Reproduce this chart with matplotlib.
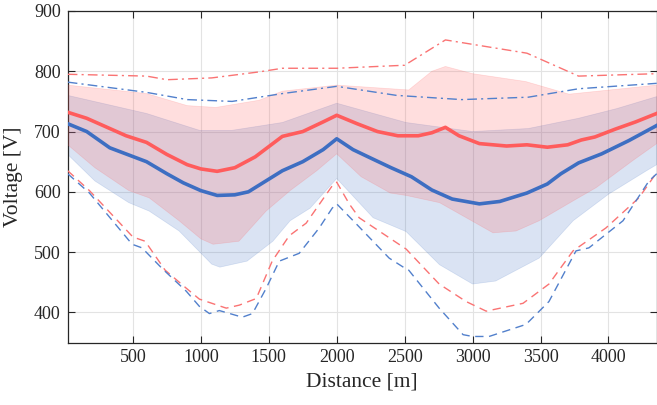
import numpy as np
import matplotlib
matplotlib.use("Agg")
import matplotlib.pyplot as plt

# ---------------- data ----------------
red_mean_x = [20, 160, 300, 450, 600, 750, 900, 1000, 1120, 1250, 1400, 1500, 1600, 1750, 1900, 2000,
              2150, 2300, 2450, 2600, 2700, 2800, 2900, 3050, 3250, 3400, 3550, 3700, 3800, 3900,
              4050, 4200, 4355]
red_mean_y = [732, 722, 708, 693, 682, 662, 645, 638, 634, 640, 658, 675, 692, 700, 716, 727,
              713, 700, 693, 693, 698, 707, 693, 680, 676, 678, 674, 678, 686, 691,
              704, 716, 730]

blue_mean_x = [20, 160, 330, 600, 750, 870, 1000, 1120, 1250, 1350, 1450, 1600, 1750, 1900, 2000,
               2120, 2250, 2400, 2550, 2700, 2850, 3050, 3200, 3400, 3550, 3650, 3780, 3950, 4150, 4355]
blue_mean_y = [713, 700, 673, 650, 630, 615, 602, 594, 595, 600, 614, 635, 650, 670, 688,
               670, 656, 640, 625, 603, 588, 580, 584, 598, 613, 630, 648, 663, 685, 710]

red_max_x = [20, 600, 750, 1080, 1430, 1600, 2000, 2500, 2800, 3400, 3780, 4355]
red_max_y = [795, 792, 786, 789, 799, 805, 805, 810, 852, 830, 792, 796]

blue_max_x = [20, 600, 900, 1230, 1600, 2000, 2440, 2920, 3410, 3780, 4355]
blue_max_y = [782, 765, 753, 750, 763, 775, 760, 753, 757, 771, 780]

red_min_x = [20, 180, 500, 590, 737, 893, 989, 1187, 1283, 1408, 1525, 1650, 1775, 1967, 2000,
             2092, 2165, 2511, 2754, 2952, 3100, 3371, 3562, 3739, 3981, 4224, 4355]
red_min_y = [635, 602, 525, 518, 470, 440, 422, 407, 412, 423, 485, 527, 548, 610, 616,
             580, 557, 505, 447, 418, 402, 415, 447, 502, 540, 590, 632]

blue_min_x = [20, 180, 494, 567, 714, 893, 989, 1063, 1136, 1305, 1380, 1481, 1577, 1724, 1871,
              1967, 2000, 2143, 2386, 2511, 2530, 2754, 2930, 3000, 3121, 3393, 3562, 3761, 3856,
              4107, 4298, 4355]
blue_min_y = [630, 598, 513, 507, 473, 435, 410, 398, 403, 392, 398, 440, 485, 498, 540,
              573, 580, 547, 490, 472, 470, 407, 363, 360, 360, 380, 418, 502, 507,
              552, 618, 630]

red_up_x = [20, 600, 900, 1110, 1430, 1600, 2000, 2530, 2700, 2800, 3000, 3390, 3710, 4355]
red_up_y = [777, 763, 743, 740, 752, 767, 777, 769, 800, 808, 796, 783, 762, 777]

red_lo_x = [20, 220, 470, 620, 840, 1000, 1090, 1280, 1480, 1657, 1853, 2000, 2180, 2394, 2511,
            2757, 3150, 3320, 3490, 3740, 3910, 4180, 4355]
red_lo_y = [678, 640, 602, 590, 552, 522, 513, 518, 568, 602, 635, 663, 625, 598, 594,
            582, 532, 535, 552, 585, 607, 652, 680]

blue_up_x = [20, 600, 990, 1230, 1600, 2000, 2510, 3000, 3410, 3780, 4060, 4355]
blue_up_y = [760, 730, 702, 702, 715, 747, 715, 700, 705, 722, 738, 758]

blue_lo_x = [20, 220, 470, 620, 840, 1080, 1140, 1340, 1530, 1657, 1805, 1900, 2000, 2268, 2511,
             2757, 3000, 3170, 3490, 3740, 4000, 4280, 4355]
blue_lo_y = [662, 618, 582, 568, 535, 480, 475, 485, 518, 552, 573, 597, 622, 557, 534,
             479, 447, 452, 490, 552, 596, 635, 645]

x_ticks = [500, 1000, 1500, 2000, 2500, 3000, 3500, 4000]
y_ticks = [400, 500, 600, 700, 800, 900]

# ---------------- styling ----------------
plt.rcParams['font.family'] = ['Liberation Serif', 'DejaVu Serif']

RED = (1.0, 0.36, 0.36)
BLUE = (0.24, 0.43, 0.76)
RED_L = (0.98, 0.45, 0.45)
BLUE_L = (0.32, 0.50, 0.80)
AX = '#262626'

fig = plt.figure(figsize=(6.57, 4.05), dpi=100)
ax = fig.add_axes([67.7 / 657, (405 - 342.5) / 405, (656.7 - 67.7) / 657, (342.5 - 11) / 405])

# bands
bx = np.concatenate([blue_up_x, blue_lo_x[::-1]])
by = np.concatenate([blue_up_y, blue_lo_y[::-1]])
ax.fill(bx, by, facecolor=BLUE, alpha=0.19, edgecolor=(0.24, 0.43, 0.76, 0.35),
        linewidth=0.5, zorder=2)
rx = np.concatenate([red_up_x, red_lo_x[::-1]])
ry = np.concatenate([red_up_y, red_lo_y[::-1]])
ax.fill(rx, ry, facecolor=RED, alpha=0.20, edgecolor=(1.0, 0.36, 0.36, 0.35),
        linewidth=0.5, zorder=3)

# min / max lines
ax.plot(red_max_x, red_max_y, color=RED_L, lw=1.0, dashes=(7, 3, 1.5, 3), zorder=4)
ax.plot(blue_max_x, blue_max_y, color=BLUE_L, lw=1.0, dashes=(7, 3, 1.5, 3), zorder=4)
ax.plot(red_min_x, red_min_y, color=RED_L, lw=1.0, dashes=(6, 4), zorder=4)
ax.plot(blue_min_x, blue_min_y, color=BLUE_L, lw=1.0, dashes=(6, 4), zorder=4)

# means
ax.plot(red_mean_x, red_mean_y, color=RED, lw=2.6, zorder=5, solid_joinstyle='round')
ax.plot(blue_mean_x, blue_mean_y, color=BLUE, lw=2.6, zorder=5, solid_joinstyle='round')

ax.set_xlim(20, 4355)
ax.set_ylim(350, 900)
ax.set_xticks(x_ticks)
ax.set_yticks(y_ticks)
ax.set_xticklabels([str(v) for v in x_ticks])
ax.set_yticklabels([str(v) for v in y_ticks])

ax.grid(True, color='#e3e3e3', lw=0.8, zorder=1)
ax.set_axisbelow(True)

ax.tick_params(direction='in', length=5, width=0.8, colors=AX, labelsize=13,
               top=True, right=True, pad=5)
for sp in ax.spines.values():
    sp.set_color(AX)
    sp.set_linewidth(0.9)

ax.set_xlabel('Distance [m]', fontsize=15.5, color=AX, labelpad=4)
ax.set_ylabel('Voltage [V]', fontsize=15.5, color=AX, labelpad=8)

fig.savefig('out.png', dpi=100)
